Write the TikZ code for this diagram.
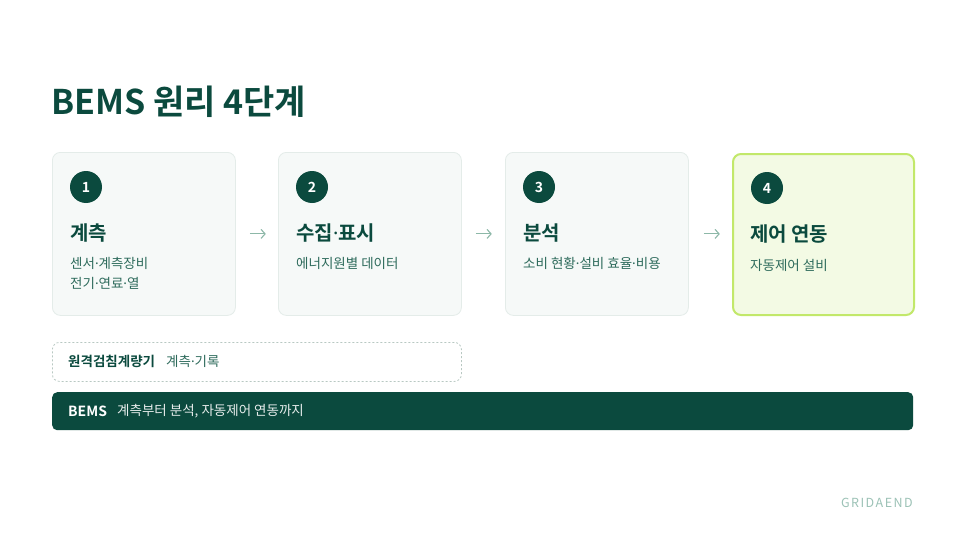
\documentclass[tikz,border=0pt]{standalone}
\usepackage{fontspec}
\setmainfont{Noto Sans CJK KR}
\newfontfamily\krb{Noto Sans CJK KR Bold}
\newfontfamily\latdot{Noto Sans}
\newcommand{\md}{{\latdot ·}}
\usetikzlibrary{arrows.meta}
\definecolor{dg}{HTML}{0B4A3E}
\definecolor{sub}{HTML}{2E6B5C}
\definecolor{cardfill}{HTML}{F6F9F8}
\definecolor{cardline}{HTML}{E4ECE9}
\definecolor{limefill}{HTML}{F3FAE4}
\definecolor{limeline}{HTML}{C2E86A}
\definecolor{arr}{HTML}{8DB8A8}
\definecolor{dash}{HTML}{B8C8C2}
\definecolor{brand}{HTML}{9CC2B6}
\tikzset{
  card/.style={draw=cardline, fill=cardfill, line width=0.8pt, rounded corners=8pt, minimum width=183pt, minimum height=163pt, inner sep=0pt},
  hicard/.style={card, draw=limeline, fill=limefill, line width=2pt},
  num/.style={circle, fill=dg, minimum size=32pt, inner sep=0pt, text=white, font=\krb\fontsize{14}{14}\selectfont},
  ctitle/.style={anchor=west, inner sep=0pt, text=dg, font=\krb\fontsize{20}{20}\selectfont},
  csub/.style={anchor=north west, inner sep=0pt, text=sub, align=left, font=\fontsize{13.5}{20}\selectfont},
  flow/.style={-{Straight Barb[length=4pt,width=9pt]}, draw=arr, line width=1.1pt},
}
\begin{document}
\begin{tikzpicture}[x=1pt,y=-1pt]
\useasboundingbox (0,0) rectangle (966,543);
\fill[white] (0,0) rectangle (966,543);
\node[anchor=west, inner sep=0pt, text=dg, font=\krb\fontsize{34}{34}\selectfont] (title) at (51,102) {BEMS 원리 4단계};
% cards
\node[card, anchor=north west] (c1) at (52,152) {};
\node[card, anchor=north west] (c2) at (278,152) {};
\node[card, anchor=north west] (c3) at (505,152) {};
\node[hicard, anchor=north west, minimum width=181pt, minimum height=161pt] (c4) at (732,153) {};
% numbers
\node[num] (n1) at (86,187) {1};
\node[num] (n2) at (312,187) {2};
\node[num] (n3) at (539,187) {3};
\node[num] (n4) at (767,188) {4};
% titles
\node[ctitle] (t1) at (70,233) {계측};
\node[ctitle] (t2) at (296,233) {수집\md 표시};
\node[ctitle] (t3) at (523,233) {분석};
\node[ctitle] (t4) at (750,234) {제어 연동};
% subtitles
\node[csub] (s1) at (70,257) {센서\md 계측장비\\전기\md 연료\md 열};
\node[csub] (s2) at (296,257) {에너지원별 데이터};
\node[csub] (s3) at (523,257) {소비 현황\md 설비 효율\md 비용};
\node[csub] (s4) at (750,259) {자동제어 설비};
% arrows
\draw[flow] (c1.east) ++(14,0) coordinate (a1s) -- ++(16,0) coordinate (a1e);
\draw[flow] (c2.east) ++(14,0) coordinate (a2s) -- ++(16,0) coordinate (a2e);
\draw[flow] (c3.east) ++(15,0) coordinate (a3s) -- ++(16,0) coordinate (a3e);
% dashed box
\node[draw=dash, dashed, dash pattern=on 2pt off 2pt, line width=0.8pt, rounded corners=7pt, anchor=north west, minimum width=409pt, minimum height=39pt, inner sep=0pt] (meter) at (52,342) {};
\node[anchor=west, inner sep=0pt, text=dg, font=\krb\fontsize{13.5}{13.5}\selectfont] (mlab) at (68,361.5) {원격검침계량기};
\node[anchor=west, inner sep=0pt, text=sub, font=\fontsize{13.5}{13.5}\selectfont] (mtxt) at (166,361.5) {계측\md 기록};
% BEMS bar
\node[fill=dg, rounded corners=5pt, anchor=north west, minimum width=861pt, minimum height=38pt, inner sep=0pt] (bar) at (52,392) {};
\node[anchor=west, inner sep=0pt, text=white, font=\krb\fontsize{14}{14}\selectfont] (blab) at (68,411) {BEMS};
\node[anchor=west, inner sep=0pt, text=white!90!dg, font=\fontsize{13.5}{13.5}\selectfont] (btxt) at (117,411) {계측부터 분석, 자동제어 연동까지};
% brand
\node[anchor=east, inner sep=0pt, text=brand, font=\fontsize{12.5}{12.5}\selectfont\addfontfeature{LetterSpace=12}] (brandname) at (913,503) {GRIDAEND};
\end{tikzpicture}
\end{document}
